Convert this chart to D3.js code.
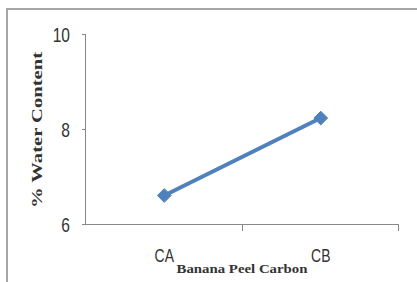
<!DOCTYPE html>
<html><head><meta charset="utf-8">
<script src="https://cdn.jsdelivr.net/npm/d3@7"></script>
<style>html,body{margin:0;padding:0;background:#fff;}svg{display:block;}</style>
</head><body>
<svg id="c" width="417" height="282"></svg>
<script>
const categories = ["CA", "CB"];
const values = [6.6, 8.23];
const yTicks = [6, 8, 10];
const yTitle = "% Water Content";
const xTitle = "Banana Peel Carbon";

const svg = d3.select("#c");
svg.append("path").attr("d", "M7,290 L7,9 L430,9").attr("fill","none")
  .attr("stroke","#a6a6a6").attr("stroke-width",2);

const x = d3.scaleBand().domain(categories).range([86, 399]);
const y = d3.scaleLinear().domain([6, 10]).range([224, 34]);
const axisColor = "#888";
const narrow = "'Liberation Sans',Arial,sans-serif";

// y axis
const ya = svg.append("g").attr("transform","translate(86,0)")
  .call(d3.axisLeft(y).tickValues(yTicks).tickSize(4).tickFormat(""));
ya.select(".domain").attr("stroke",axisColor).attr("d","M-0.5,34 L-0.5,224");
ya.selectAll(".tick line").attr("stroke",axisColor);
ya.selectAll(".tick").append("text")
  .attr("transform","translate(-16,0) scale(0.82,1.05)")
  .attr("text-anchor","end").attr("dy","0.36em")
  .attr("font-family",narrow).attr("font-size",19).attr("fill","#333")
  .text(d=>d3.format("d")(d));

// x axis
const xa = svg.append("g").attr("transform","translate(0,224)");
xa.append("line").attr("x1",82).attr("x2",x.range()[1]).attr("y1",0.5).attr("y2",0.5).attr("stroke",axisColor);
const bounds = categories.map(c => x(c) + x.bandwidth());
xa.selectAll("line.tk").data(bounds).join("line").attr("class","tk")
  .attr("x1",d=>Math.round(d)-0.5).attr("x2",d=>Math.round(d)-0.5).attr("y1",0).attr("y2",7).attr("stroke",axisColor);
xa.selectAll("text").data(categories).join("text")
  .attr("transform",d=>`translate(${x(d)+x.bandwidth()/2},38) scale(0.82,1.05)`).attr("text-anchor","middle")
  .attr("font-family",narrow).attr("font-size",17).attr("fill","#333")
  .text(d=>d);

// line
const pts = categories.map((c,i)=>[x(c)+x.bandwidth()/2, y(values[i])]);
svg.append("path").attr("d", d3.line()(pts)).attr("fill","none")
  .attr("stroke","#4f81bd").attr("stroke-width",4);
svg.selectAll("path.m").data(pts).join("path").attr("class","m")
  .attr("transform",d=>`translate(${d[0]},${d[1]})`)
  .attr("d", d3.symbol().type(d3.symbolDiamond2).size(120))
  .attr("fill","#4f81bd").attr("stroke","#4f81bd").attr("stroke-width",1);

// titles
svg.append("text").attr("transform","translate(42,130) rotate(-90)").attr("text-anchor","middle")
  .attr("font-family","'Liberation Serif','Times New Roman',serif").attr("font-weight","bold").attr("font-size",15)
  .attr("fill","#333").attr("textLength",156).attr("lengthAdjust","spacingAndGlyphs").text(yTitle);
svg.append("text").attr("x",242).attr("y",273).attr("text-anchor","middle")
  .attr("font-family","'Liberation Serif','Times New Roman',serif").attr("font-weight","bold").attr("font-size",13)
  .attr("fill","#333").attr("textLength",131).attr("lengthAdjust","spacingAndGlyphs").text(xTitle);
</script>
</body></html>
